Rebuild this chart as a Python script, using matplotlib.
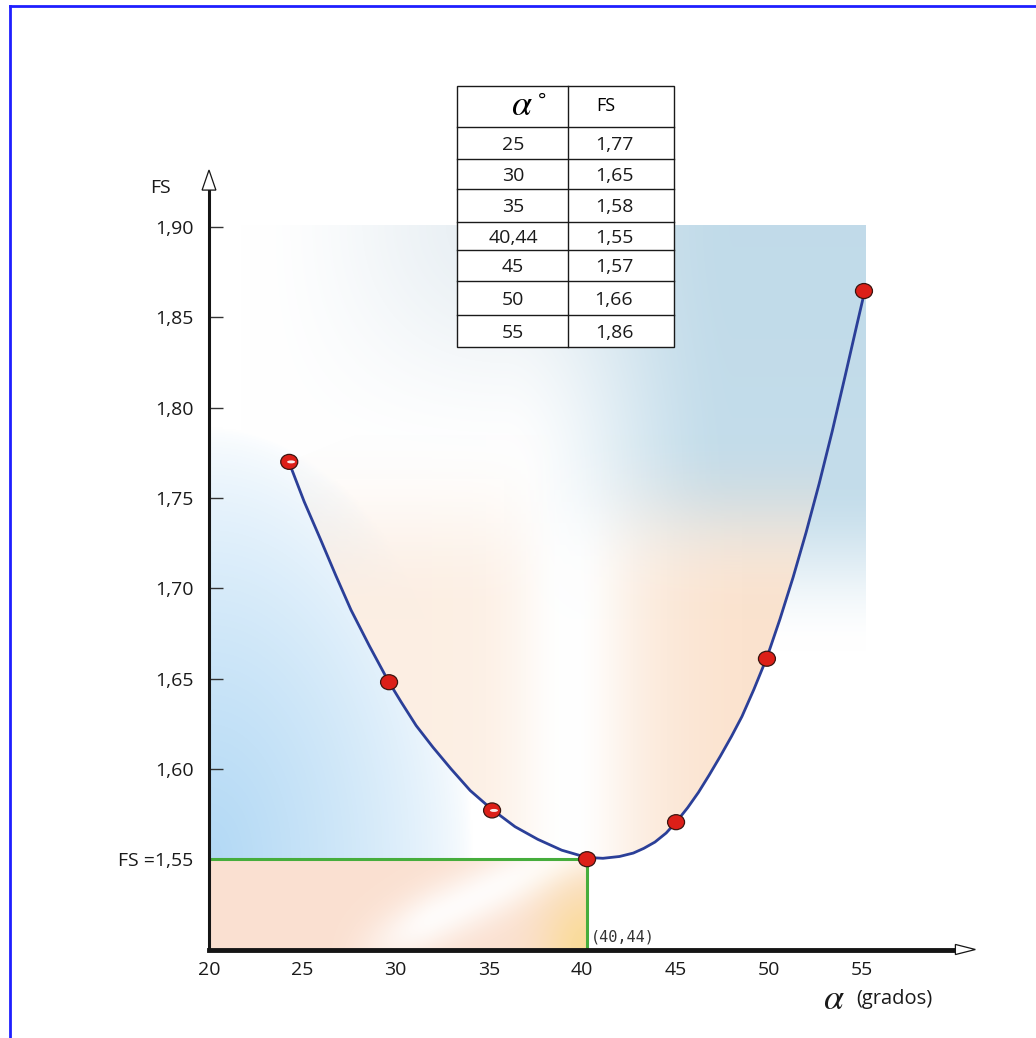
import numpy as np
import matplotlib
matplotlib.use("Agg")
import matplotlib.pyplot as plt
from matplotlib.patches import Polygon, Ellipse, Rectangle

plt.rcParams['font.family'] = ['Open Sans', 'DejaVu Sans']
plt.rcParams['mathtext.fontset'] = 'stix'

# table values (as printed)
table_alpha = ['25', '30', '35', '40,44', '45', '50', '55']
table_fs = ['1,77', '1,65', '1,58', '1,55', '1,57', '1,66', '1,86']

# plotted points
pts_x = [24.3, 29.65, 35.17, 40.26, 45.03, 49.9, 55.1]
pts_y = [1.770, 1.648, 1.577, 1.550, 1.5705, 1.661, 1.8646]
glossy = [True, False, True, False, False, False, False]

# drawn curve vertices
curve_x = [24.28, 25.1, 25.98, 26.8, 27.61, 28.6, 29.59, 30.3, 31.1, 32.0,
           32.97, 34.0, 35.11, 36.4, 37.62, 38.9, 40.23, 41.11, 42.0, 42.74,
           43.3, 43.9, 44.5, 45.07, 45.65, 46.23, 46.8, 47.4, 48.0, 48.56,
           49.2, 49.91, 50.6, 51.3, 52.0, 52.7, 53.4, 54.1, 54.7, 55.15]
curve_y = [1.770, 1.748, 1.727, 1.707, 1.688, 1.668, 1.649, 1.637, 1.624, 1.612,
           1.600, 1.588, 1.578, 1.568, 1.561, 1.555, 1.551, 1.5505, 1.5515, 1.5534,
           1.556, 1.5595, 1.5645, 1.571, 1.5785, 1.587, 1.5965, 1.607, 1.618, 1.629,
           1.644, 1.662, 1.683, 1.706, 1.731, 1.758, 1.787, 1.818, 1.845, 1.865]

fs_opt = 1.55
alpha_opt = 40.26

x_ticks = [20, 25, 30, 35, 40, 45, 50, 55]
x_marks = [30, 35, 40, 45, 50, 55]
y_ticks = [1.55, 1.60, 1.65, 1.70, 1.75, 1.80, 1.85, 1.90]
y_labels = ['FS =1,55', '1,60', '1,65', '1,70', '1,75', '1,80', '1,85', '1,90']


def smooth(t, a, b):
    t = np.clip((t - a) / (b - a), 0, 1)
    return t * t * (3 - 2 * t)


def blend(img, color, w):
    w = w[..., None]
    return img * (1 - w) + np.array(color) * w


W, H = 1036, 1038
fig = plt.figure(figsize=(W / 100, H / 100), dpi=100)
x0, x1 = 20, 62
y0, y1 = 1.50, 1.935
px_x = 18.66
px_y = 1806
ax = fig.add_axes([209 / W, (H - 949.5) / H,
                   (x1 - x0) * px_x / W, (y1 - y0) * px_y / H])
ax.set_xlim(x0, x1)
ax.set_ylim(y0, y1)
ax.patch.set_alpha(0)

# background shading
bx = (20, 55.16, 1.55, 1.901)
gx, gy = np.meshgrid(np.linspace(0, 1, 400), np.linspace(0, 1, 400))
bg = np.ones((400, 400, 3))
w_left = np.clip(1 - np.sqrt((gx / 0.40) ** 2 + (gy / 0.68) ** 2), 0, 1) ** 0.65
bg = blend(bg, (0.70, 0.85, 0.96), w_left)
w_top = smooth(gy, 0.6, 1.0) * smooth(gx, 0.05, 0.45) * 0.45
bg = blend(bg, (0.80, 0.86, 0.90), w_top)
w_right = smooth(gx, 0.45, 0.8) * smooth(gy, 0.33, 0.6) * 0.9
bg = blend(bg, (0.74, 0.85, 0.91), w_right)
ax.imshow(bg, extent=bx, origin='lower', aspect='auto', zorder=0,
          interpolation='bilinear')

# peach inside the curve, covering the blue and fading out towards the top
a = 0.45 + 0.35 * smooth(gx, 0.55, 0.85) - 0.45 * np.exp(-((gx - 0.55) / 0.09) ** 2)
inner = blend(np.ones((400, 400, 3)), (0.98, 0.86, 0.76), np.clip(a, 0, 1))
pe = np.dstack([inner, 1 - smooth(gy, 0.38, 0.68)])
im = ax.imshow(pe, extent=bx, origin='lower', aspect='auto', zorder=1,
               interpolation='bilinear')
clip_xy = np.column_stack([curve_x + [curve_x[-1]], curve_y + [1.90]])
clip = Polygon(clip_xy, closed=True, transform=ax.transData,
               facecolor='none', edgecolor='none')
ax.add_patch(clip)
im.set_clip_path(clip)

# bottom-left rectangle shading
p, q = gx, gy
br = np.ones((400, 400, 3))
br = blend(br, (0.98, 0.86, 0.79), np.full_like(p, 0.85))
d = q - 2.0 * (p - 0.42)
br = blend(br, (1, 1, 1), np.exp(-(d / 0.35) ** 2) * smooth(p, 0.3, 0.6) * 0.9)
br = blend(br, (0.98, 0.86, 0.60), np.exp(-(((p - 1) / 0.12) ** 2 + (q / 0.7) ** 2)))
ax.imshow(br, extent=(20, alpha_opt, 1.50, fs_opt), origin='lower', aspect='auto',
          zorder=0, interpolation='bilinear')

# green guide lines
ax.plot([20, alpha_opt], [fs_opt, fs_opt], color='#46ad3c', lw=2.2, zorder=2)
ax.plot([alpha_opt, alpha_opt], [y0, fs_opt], color='#46ad3c', lw=2.2, zorder=2)

# curve and points
ax.plot(curve_x, curve_y, color='#2b3f98', lw=2, zorder=3, solid_joinstyle='round')
for xp, yp, g in zip(pts_x, pts_y, glossy):
    ax.add_patch(Ellipse((xp, yp), 17 / px_x, 15 / px_y, facecolor='#dc1f18',
                         edgecolor='#3a1510', lw=0.9, zorder=4))
    if g:
        ax.add_patch(Ellipse((xp + 0.1, yp), 8 / px_x, 3 / px_y, facecolor='white',
                             edgecolor='none', zorder=5, alpha=0.9))

# axes lines
for s in ['top', 'right']:
    ax.spines[s].set_visible(False)
ax.spines['bottom'].set_bounds(20, 60)
ax.spines['bottom'].set_linewidth(3.5)
ax.spines['bottom'].set_color('#151515')
ax.spines['left'].set_bounds(1.50, 1.9205)
ax.spines['left'].set_linewidth(2.2)
ax.spines['left'].set_color('#151515')

ax.add_patch(Polygon([[60, 1.50 - 0.0028], [61.07, 1.50], [60, 1.50 + 0.0028]],
                     closed=True, facecolor='white', edgecolor='#151515', lw=0.9,
                     clip_on=False, zorder=6))
ax.add_patch(Polygon([[20 - 0.37, 1.9205], [20, 1.9316], [20 + 0.37, 1.9205]],
                     closed=True, facecolor='white', edgecolor='#151515', lw=0.9,
                     clip_on=False, zorder=6))

ax.set_xticks(x_ticks)
ax.set_xticklabels([str(t) for t in x_ticks])
ax.set_xticks(x_marks, minor=True)
ax.tick_params(axis='x', which='major', length=0, pad=8, labelsize=14,
               labelcolor='#1a1a1a')
ax.tick_params(axis='x', which='minor', direction='in', length=9, width=1,
               color='#333333')
ax.set_yticks(y_ticks)
ax.set_yticklabels(y_labels)
ax.tick_params(axis='y', direction='in', length=10, width=1, color='#333333',
               pad=11, labelsize=14, labelcolor='#1a1a1a')
ax.yaxis.get_major_ticks()[0].tick1line.set_visible(False)

ax.text(alpha_opt + 0.2, 1.5025, '(40,44)', fontsize=11, family='DejaVu Sans Mono',
        color='#333333', ha='left', va='bottom', zorder=6)

# overlay in pixel coordinates: border, axis titles and table
ov = fig.add_axes([0, 0, 1, 1])
ov.set_xlim(0, W)
ov.set_ylim(H, 0)
ov.axis('off')
ov.patch.set_alpha(0)
ov.plot([9.5, 9.5], [6, H], color='#1f1fff', lw=2)
ov.plot([9.5, W], [6, 6], color='#1f1fff', lw=2)

ov.text(160, 188, 'FS', fontsize=14, ha='center', va='center', color='#1a1a1a')
ov.text(834, 1000, r'$\alpha$', fontsize=26, ha='center', va='center', color='#1a1a1a')
ov.text(856, 999, '(grados)', fontsize=14.5, ha='left', va='center', color='#1a1a1a')

tl, tr, tm, tt = 457, 674, 568, 86
rows = [86, 126.7, 159, 189, 221.7, 250, 281, 315, 346.7]
ov.add_patch(Rectangle((tl, tt), tr - tl, rows[-1] - tt, facecolor='white',
                       edgecolor='#1a1a1a', lw=1, zorder=5))
for r in rows[1:-1]:
    ov.plot([tl, tr], [r, r], color='#1a1a1a', lw=1, zorder=6)
ov.plot([tm, tm], [tt, rows[-1]], color='#1a1a1a', lw=1, zorder=6)
ov.text(522, 106, r'$\alpha$', fontsize=26, ha='center', va='center', zorder=7)
ov.text(542, 101, '°', fontsize=14, ha='center', va='center', zorder=7)
ov.text(606, 106, 'FS', fontsize=13, ha='center', va='center', zorder=7)
for i, (ta, tf) in enumerate(zip(table_alpha, table_fs)):
    yc = (rows[i + 1] + rows[i + 2]) / 2 + 2
    ov.text(513, yc, ta, fontsize=14, ha='center', va='center', zorder=7,
            color='#1a1a1a')
    ov.text(614, yc, tf, fontsize=14, ha='center', va='center', zorder=7,
            color='#1a1a1a')

fig.savefig('out.png', dpi=100)
